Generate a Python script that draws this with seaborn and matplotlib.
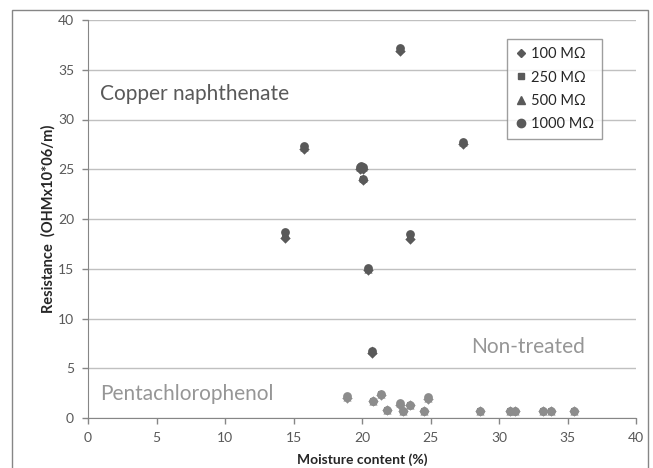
import matplotlib
matplotlib.use("Agg")
import matplotlib.pyplot as plt
import seaborn as sns
import pandas as pd
from matplotlib.patches import Rectangle

series_names = ["100 MΩ", "250 MΩ", "500 MΩ", "1000 MΩ"]
series_markers = ["D", "s", "^", "o"]

# Copper naphthenate
copper_moisture = [14.4, 15.8, 19.85, 19.95, 20.05, 20.1, 20.45, 20.7, 22.8, 23.5, 27.4]
copper_r = {
    "100 MΩ":  [18.1, 27.0, 25.0, 25.1, 25.0, 23.9, 14.9, 6.5, 36.9, 18.0, 27.5],
    "250 MΩ":  [18.4, 27.1, 25.1, 25.2, 25.1, 24.0, 15.0, 6.6, 37.0, 18.3, 27.6],
    "500 MΩ":  [18.6, 27.2, 25.2, 25.3, 25.2, 24.1, 15.0, 6.8, 37.2, 18.4, 27.7],
    "1000 MΩ": [18.7, 27.3, 25.2, 25.3, 25.2, 24.0, 15.1, 6.7, 37.2, 18.5, 27.7],
}

# Pentachlorophenol
penta_moisture = [18.9, 20.8, 21.4, 21.8, 22.8, 23.0, 23.5, 24.5, 24.8]
penta_r = {
    "100 MΩ":  [2.0, 1.7, 2.3, 0.8, 1.3, 0.7, 1.3, 0.75, 1.9],
    "250 MΩ":  [2.1, 1.7, 2.4, 0.8, 1.4, 0.7, 1.3, 0.75, 2.0],
    "500 MΩ":  [2.1, 1.7, 2.4, 0.8, 1.5, 0.7, 1.3, 0.75, 2.0],
    "1000 MΩ": [2.2, 1.7, 2.4, 0.8, 1.5, 0.7, 1.3, 0.75, 2.1],
}

# Non-treated
nontreated_moisture = [28.6, 30.8, 31.2, 33.2, 33.8, 35.5]
nontreated_r = {
    "100 MΩ":  [0.75, 0.75, 0.75, 0.75, 0.75, 0.75],
    "250 MΩ":  [0.75, 0.75, 0.75, 0.75, 0.75, 0.75],
    "500 MΩ":  [0.75, 0.75, 0.75, 0.75, 0.75, 0.75],
    "1000 MΩ": [0.75, 0.75, 0.75, 0.75, 0.75, 0.75],
}

def long_df(moist, rdict):
    rows = []
    for s in series_names:
        for m, r in zip(moist, rdict[s]):
            rows.append({"moisture": m, "resistance": r, "series": s})
    return pd.DataFrame(rows)

df_cu = long_df(copper_moisture, copper_r)
df_pe = pd.concat([long_df(penta_moisture, penta_r),
                   long_df(nontreated_moisture, nontreated_r)], ignore_index=True)

sns.set_style("white")
plt.rcParams["font.family"] = ["Lato", "DejaVu Sans"]

dark = "#595959"
light = "#8c8c8c"
txt = "#595959"

fig = plt.figure(figsize=(6.53, 4.68), dpi=100)
ax = fig.add_axes([88/653, 1-418/468, (636-88)/653, (418-20)/468])

marker_map = dict(zip(series_names, series_markers))
sizes = {"D": 28, "s": 20, "^": 34, "o": 40}

for s in series_names:
    m = marker_map[s]
    sns.scatterplot(data=df_cu[df_cu.series == s], x="moisture", y="resistance",
                    marker=m, color=dark, s=sizes[m], linewidth=0, ax=ax, zorder=3)
    sns.scatterplot(data=df_pe[df_pe.series == s], x="moisture", y="resistance",
                    marker=m, color=light, s=sizes[m], linewidth=0, ax=ax, zorder=3)

ax.set_xlim(0, 40)
ax.set_ylim(0, 40)
ax.set_xticks(range(0, 41, 5))
ax.set_yticks(range(0, 41, 5))
ax.yaxis.grid(True, color="#c0c0c0", linewidth=1)
ax.xaxis.grid(False)
ax.set_axisbelow(True)
for sp in ["top", "right"]:
    ax.spines[sp].set_visible(False)
ax.spines["left"].set_color("#868686")
ax.spines["bottom"].set_color("#868686")
ax.tick_params(axis="both", direction="out", length=4, width=1, color="#868686",
               labelcolor=txt, labelsize=10, pad=6, left=True, bottom=True)

ax.set_xlabel("Moisture content (%)", fontsize=10, fontweight="bold", color="#262626", labelpad=7)
ax.set_ylabel("Resistance  (OHMx10*06/m)", fontsize=10.5, fontweight="bold", color="#262626", labelpad=2)

ax.text(0.9, 32.6, "Copper naphthenate", fontsize=15, color=dark, va="center")
ax.text(0.9, 2.4, "Pentachlorophenol", fontsize=15, color="#969696", va="center")
ax.text(28.0, 7.1, "Non-treated", fontsize=15, color="#969696", va="center")

handles = [plt.Line2D([], [], linestyle="", marker=marker_map[s], color=dark,
                      markersize={"D": 4.5, "s": 4, "^": 5.5, "o": 6}[marker_map[s]])
           for s in series_names]
leg = ax.legend(handles, series_names, loc="upper right", bbox_to_anchor=(602/653, 1-39/468),
                bbox_transform=fig.transFigure, frameon=True, fancybox=False,
                fontsize=10.5, handletextpad=0.2, handlelength=0.9, borderpad=0.55,
                labelspacing=0.65, borderaxespad=0)
leg.get_frame().set_edgecolor("#868686")
leg.get_frame().set_linewidth(1)
for t in leg.get_texts():
    t.set_color("#262626")

fig.patches.append(Rectangle((12/653, -0.01), (648-12)/653, 1-10/468+0.01,
                             transform=fig.transFigure, fill=False,
                             edgecolor="#868686", linewidth=1))

fig.savefig("out.png", dpi=100)
